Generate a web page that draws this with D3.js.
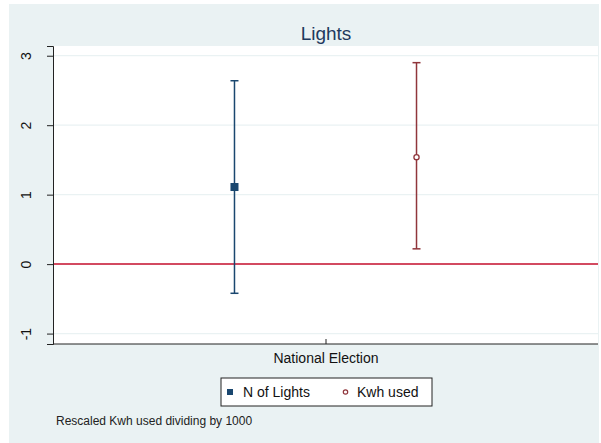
<!DOCTYPE html>
<html>
<head>
<meta charset="UTF-8">
<title>Lights</title>
<script src="https://cdn.jsdelivr.net/npm/d3@7"></script>
<style>
  body { margin: 0; background: #fff; }
  text { font-family: "Liberation Sans", Arial, sans-serif; }
</style>
</head>
<body>
<div id="chart"></div>
<script>
// data
var category = "National Election";
var series = ["N of Lights", "Kwh used"];
var xPos = [0.333, 0.667];
var estimate = [1.11, 1.54];
var upper = [2.64, 2.90];
var lower = [-0.42, 0.22];
var yTicks = [-1, 0, 1, 2, 3];
var colors = ["#1a476f", "#90353b"];

var W = 601, H = 443;
var plot = {left: 53, right: 598, top: 46, bottom: 344};

var svg = d3.select("#chart").append("svg")
    .attr("width", W).attr("height", H);

// graph region
svg.append("rect")
    .attr("x", 9).attr("y", 4).attr("width", 590).attr("height", 439)
    .attr("fill", "#eaf2f3");

svg.append("rect")
    .attr("x", plot.left).attr("y", plot.top)
    .attr("width", plot.right - plot.left).attr("height", plot.bottom - plot.top)
    .attr("fill", "#ffffff");

var x = d3.scaleLinear().domain([0, 1]).range([plot.left, plot.right]);
var y = d3.scaleLinear().domain([-1.15, 3.14]).range([plot.bottom, plot.top]);

// grid
svg.selectAll(".grid").data(yTicks).enter().append("line")
    .attr("x1", plot.left).attr("x2", plot.right)
    .attr("y1", function(d) { return y(d); }).attr("y2", function(d) { return y(d); })
    .attr("stroke", "#eaf2f3").attr("stroke-width", 1.2);

// zero line
svg.append("line")
    .attr("x1", plot.left).attr("x2", plot.right)
    .attr("y1", y(0)).attr("y2", y(0))
    .attr("stroke", "#c8102e").attr("stroke-width", 1.5);

// y axis
var yAxis = svg.append("g")
    .attr("transform", "translate(" + plot.left + ",0)")
    .call(d3.axisLeft(y).tickValues(yTicks).tickSize(6).tickFormat(function(d) { return String(d); }));
yAxis.select(".domain").attr("stroke", "#222");
yAxis.selectAll(".tick line").attr("stroke", "#222");
yAxis.selectAll(".tick text")
    .style("font-size", "14px").attr("fill", "#111")
    .attr("x", 0).attr("y", 0).attr("dy", null)
    .attr("text-anchor", "middle")
    .attr("transform", "translate(-22,0) rotate(-90)");

// x axis
var xAxis = svg.append("g")
    .attr("transform", "translate(0," + plot.bottom + ")")
    .call(d3.axisBottom(x).tickValues([0.5]).tickSize(5).tickFormat(function() { return category; }));
xAxis.select(".domain").attr("stroke", "#222").attr("d", "M" + plot.left + ",0H" + plot.right);
xAxis.selectAll(".tick line").attr("stroke", "#222").attr("y2", -5);
xAxis.selectAll(".tick text")
    .style("font-size", "14px").attr("fill", "#111").attr("y", 9).attr("dy", "0.71em");

// error bars
var idx = d3.range(series.length);
var cap = 4;
svg.selectAll(".bar").data(idx).enter().append("line")
    .attr("x1", function(i) { return x(xPos[i]); }).attr("x2", function(i) { return x(xPos[i]); })
    .attr("y1", function(i) { return y(upper[i]); }).attr("y2", function(i) { return y(lower[i]); })
    .attr("stroke", function(i) { return colors[i]; }).attr("stroke-width", 1.5);
svg.selectAll(".capT").data(idx).enter().append("line")
    .attr("x1", function(i) { return x(xPos[i]) - cap; }).attr("x2", function(i) { return x(xPos[i]) + cap; })
    .attr("y1", function(i) { return y(upper[i]); }).attr("y2", function(i) { return y(upper[i]); })
    .attr("stroke", function(i) { return colors[i]; }).attr("stroke-width", 1.5);
svg.selectAll(".capB").data(idx).enter().append("line")
    .attr("x1", function(i) { return x(xPos[i]) - cap; }).attr("x2", function(i) { return x(xPos[i]) + cap; })
    .attr("y1", function(i) { return y(lower[i]); }).attr("y2", function(i) { return y(lower[i]); })
    .attr("stroke", function(i) { return colors[i]; }).attr("stroke-width", 1.5);

// point markers
svg.append("rect")
    .attr("x", x(xPos[0]) - 4).attr("y", y(estimate[0]) - 4)
    .attr("width", 8).attr("height", 8).attr("fill", colors[0]);
svg.append("circle")
    .attr("cx", x(xPos[1])).attr("cy", y(estimate[1])).attr("r", 2.6)
    .attr("fill", "#fff").attr("stroke", colors[1]).attr("stroke-width", 1.3);

// title
svg.append("text")
    .attr("x", 326).attr("y", 40).attr("text-anchor", "middle")
    .style("font-size", "19px").attr("fill", "#1e3a5f").text("Lights");

// legend
var lg = svg.append("g").attr("transform", "translate(221,378)");
lg.append("rect").attr("width", 211).attr("height", 28)
    .attr("fill", "#fff").attr("stroke", "#222").attr("stroke-width", 1);
lg.append("rect").attr("x", 6).attr("y", 11).attr("width", 6).attr("height", 6).attr("fill", colors[0]);
lg.append("text").attr("x", 22).attr("y", 19).style("font-size", "14px").attr("fill", "#111").text(series[0]);
lg.append("circle").attr("cx", 124.5).attr("cy", 14).attr("r", 2.2)
    .attr("fill", "#fff").attr("stroke", colors[1]).attr("stroke-width", 1.2);
lg.append("text").attr("x", 136).attr("y", 19).style("font-size", "14px").attr("fill", "#111").text(series[1]);

// note
svg.append("text")
    .attr("x", 56).attr("y", 425).style("font-size", "12px").attr("fill", "#222")
    .text("Rescaled Kwh used dividing by 1000");
</script>
</body>
</html>
